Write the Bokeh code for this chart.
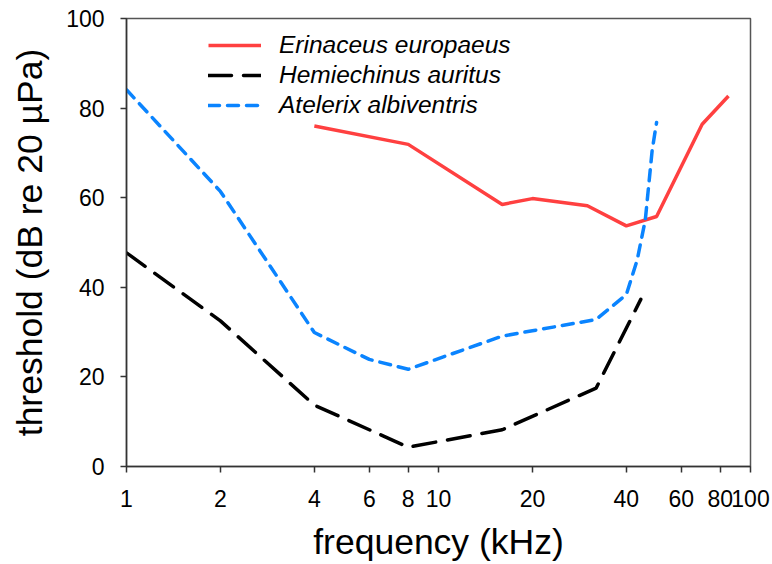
from bokeh.plotting import figure
from bokeh.models import FixedTicker, BasicTickFormatter, Range1d, Legend, LegendItem
from bokeh.embed import file_html
from bokeh.resources import INLINE

# Data
erin_freq = [4, 8, 16, 20, 30, 40, 50, 70, 85]
erin_thr = [76.0, 71.9, 58.5, 59.8, 58.2, 53.7, 55.8, 76.4, 82.7]

hemi_freq = [1, 2, 4, 8, 16, 32, 44.5]
hemi_thr = [47.7, 32.5, 13.7, 4.3, 8.2, 17.5, 37.3]

atel_freq = [1, 2, 4, 6, 8, 16, 20, 32, 40, 43.3, 46, 48.4, 50]
atel_thr = [84.1, 61.4, 29.9, 23.9, 21.7, 29.1, 30.3, 32.8, 38.4, 46.0, 55.0, 70.6, 76.8]

x_ticks = [1, 2, 4, 6, 8, 10, 20, 40, 60, 80, 100]
y_ticks = [0, 20, 40, 60, 80, 100]

series_names = ["Erinaceus europaeus", "Hemiechinus auritus", "Atelerix albiventris"]

FONT = "Liberation Sans"

p = figure(width=770, height=564, x_axis_type="log",
           x_range=Range1d(1, 100), y_range=Range1d(0, 100),
           output_backend="svg", toolbar_location=None,
           min_border_left=126, min_border_top=18, min_border_right=20,
           min_border_bottom=10)

p.grid.visible = False
p.background_fill_color = "white"
p.border_fill_color = "white"
p.outline_line_color = "#555555"
p.outline_line_width = 1.5

r1 = p.line(erin_freq, erin_thr, line_color="#ff4040", line_width=3.5)
r2 = p.line(hemi_freq, hemi_thr, line_color="black", line_width=3.5,
            line_dash="23 12", line_cap="round")
r3 = p.line(atel_freq, atel_thr, line_color="#0a84ff", line_width=3.5,
            line_dash="11 8", line_cap="round")

# Axes
xa = p.xaxis[0]
xa.ticker = FixedTicker(ticks=x_ticks)
xa.formatter = BasicTickFormatter()
ya = p.yaxis[0]
ya.ticker = FixedTicker(ticks=y_ticks)

for ax in (xa, ya):
    ax.axis_line_color = "#333333"
    ax.axis_line_width = 1.5
    ax.major_tick_line_color = "#333333"
    ax.major_tick_line_width = 1.5
    ax.major_tick_in = 0
    ax.major_tick_out = 6
    ax.minor_tick_line_color = None
    ax.major_label_text_font = FONT
    ax.major_label_text_font_size = "23px"
    ax.major_label_text_color = "black"
    ax.axis_label_text_font = FONT
    ax.axis_label_text_font_size = "35.5px"
    ax.axis_label_text_font_style = "normal"
    ax.axis_label_text_color = "black"

xa.axis_label = "frequency (kHz)"
ya.axis_label = "threshold (dB re 20 µPa)"
xa.major_label_standoff = 17
xa.axis_label_standoff = 12
ya.major_label_standoff = 16
ya.axis_label_standoff = 13

legend = Legend(items=[LegendItem(label=series_names[0], renderers=[r1]),
                       LegendItem(label=series_names[1], renderers=[r2]),
                       LegendItem(label=series_names[2], renderers=[r3])],
                location=(82, 346))
legend.border_line_color = None
legend.background_fill_alpha = 0
legend.padding = 0
legend.spacing = 0
legend.margin = 0
legend.label_height = 30
legend.glyph_height = 30
legend.glyph_width = 53
legend.label_standoff = 18
legend.label_text_font = FONT
legend.label_text_font_size = "24.5px"
legend.label_text_font_style = "italic"
legend.label_text_color = "black"
p.add_layout(legend, "center")

open("out.html", "w").write(file_html(p, INLINE))
